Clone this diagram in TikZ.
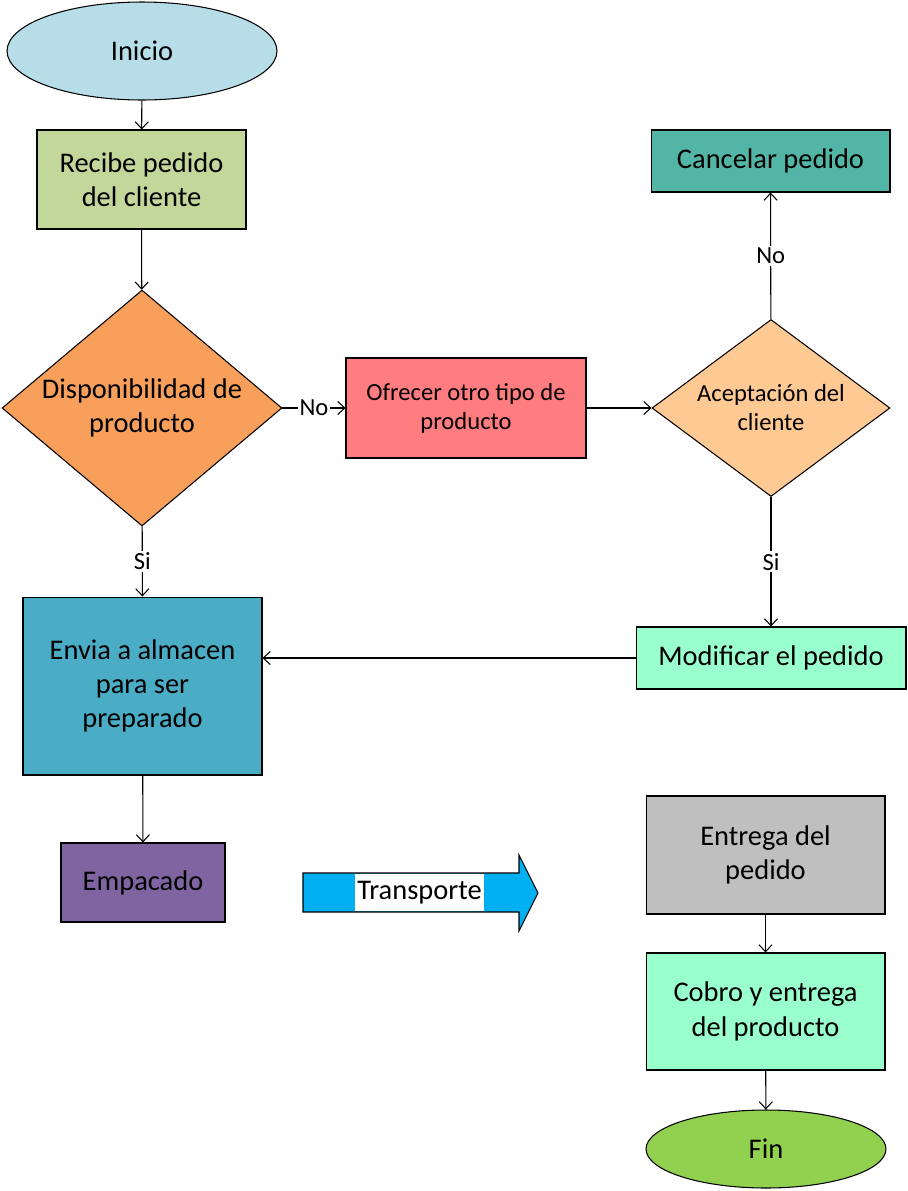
\documentclass[tikz,border=0pt]{standalone}
\usepackage{fontspec}
\setmainfont{Carlito}
\usetikzlibrary{shapes.geometric,arrows.meta}
\definecolor{iniciocol}{HTML}{B7DDE8}
\definecolor{recibecol}{HTML}{C4D79B}
\definecolor{dispcol}{HTML}{F79F5B}
\definecolor{ofrecercol}{HTML}{FF7C80}
\definecolor{aceptcol}{HTML}{FFC993}
\definecolor{cancelcol}{HTML}{52B5A5}
\definecolor{modifcol}{HTML}{99FFCC}
\definecolor{enviacol}{HTML}{4BACC6}
\definecolor{empaccol}{HTML}{8064A2}
\definecolor{transcol}{HTML}{00B0F0}
\definecolor{entregacol}{HTML}{BFBFBF}
\definecolor{fincol}{HTML}{92D050}

\begin{document}
\begin{tikzpicture}[x=0.02cm,y=-0.02cm,line width=0.6pt,
		>={Straight Barb[length=4pt,width=7.5pt]},
		big/.style={font=\fontsize{16.2}{19.5}\selectfont,align=center},
		small/.style={font=\fontsize{14}{16.5}\selectfont,align=center},
		proc/.style={draw,rectangle,big,inner sep=2pt},
		term/.style={draw,ellipse,big,inner sep=0pt},
		decis/.style={draw,diamond,inner sep=-0.4cm},
		lbl/.style={fill=white,inner sep=1pt,small}]
			\useasboundingbox (0,0) rectangle (907,1191);

			% left column
			\node[term,fill=iniciocol,minimum width=5.4cm,minimum height=1.96cm] (inicio) at (142,51) {Inicio};
			\node[proc,fill=recibecol,minimum width=4.18cm,minimum height=1.98cm] (recibe) at (141.5,179.5) {Recibe pedido\\del cliente};
			\node[decis,big,fill=dispcol,minimum width=5.6cm,minimum height=4.72cm] (disp) at (142,408) {Disponibilidad de\\producto};
			\node[proc,fill=enviacol,minimum width=4.78cm,minimum height=3.56cm] (envia) at (142.5,686) {Envia a almacen\\para ser\\preparado};
			\node[proc,fill=empaccol,minimum width=3.28cm,minimum height=1.58cm] (empacado) at (143,882.5) {Empacado};

			% middle and right column
			\node[proc,small,fill=ofrecercol,minimum width=4.8cm,minimum height=2cm] (ofrecer) at (466,408) {Ofrecer otro tipo de\\producto};
			\node[decis,small,fill=aceptcol,minimum width=4.76cm,minimum height=3.54cm] (acept) at (771,408) {Aceptación del\\cliente};
			\node[proc,fill=cancelcol,minimum width=4.78cm,minimum height=1.24cm] (cancelar) at (770.5,161) {Cancelar pedido};
			\node[proc,fill=modifcol,minimum width=5.4cm,minimum height=1.24cm] (modificar) at (771,658) {Modificar el pedido};
			\node[proc,fill=entregacol,minimum width=4.78cm,minimum height=2.36cm] (entrega) at (765.5,855) {Entrega del\\pedido};
			\node[proc,fill=modifcol,minimum width=4.78cm,minimum height=2.34cm] (cobro) at (765.5,1011.5) {Cobro y entrega\\del producto};
			\node[term,fill=fincol,minimum width=4.8cm,minimum height=1.56cm] (fin) at (766,1149) {Fin};

			% transport arrow
			\draw[fill=transcol] (303,873) -- (519,873) -- (519,855) -- (538,893) -- (519,931) -- (519,912) -- (303,912) -- cycle;
			\node[big,fill=white,inner sep=0pt,minimum width=2.58cm,minimum height=0.74cm] (transporte) at (419.5,892.5) {Transporte};

			% connectors
			\draw[->] (inicio) -- (recibe);
			\draw[->] (recibe) -- (disp);
			\draw[->] (disp) -- node[lbl] {No} (ofrecer);
			\draw[->] (ofrecer) -- (acept);
			\draw[->] (acept) -- node[lbl] {No} (cancelar);
			\draw[->] (acept) -- node[lbl] {Si} (modificar);
			\draw[->] (disp) -- node[lbl] {Si} (envia);
			\draw[->] (modificar.west) -- (modificar.west -| envia.east);
			\draw[->] (envia) -- (empacado);
			\draw[->] (entrega) -- (cobro);
			\draw[->] (cobro) -- (fin);
		\end{tikzpicture}
\end{document}
